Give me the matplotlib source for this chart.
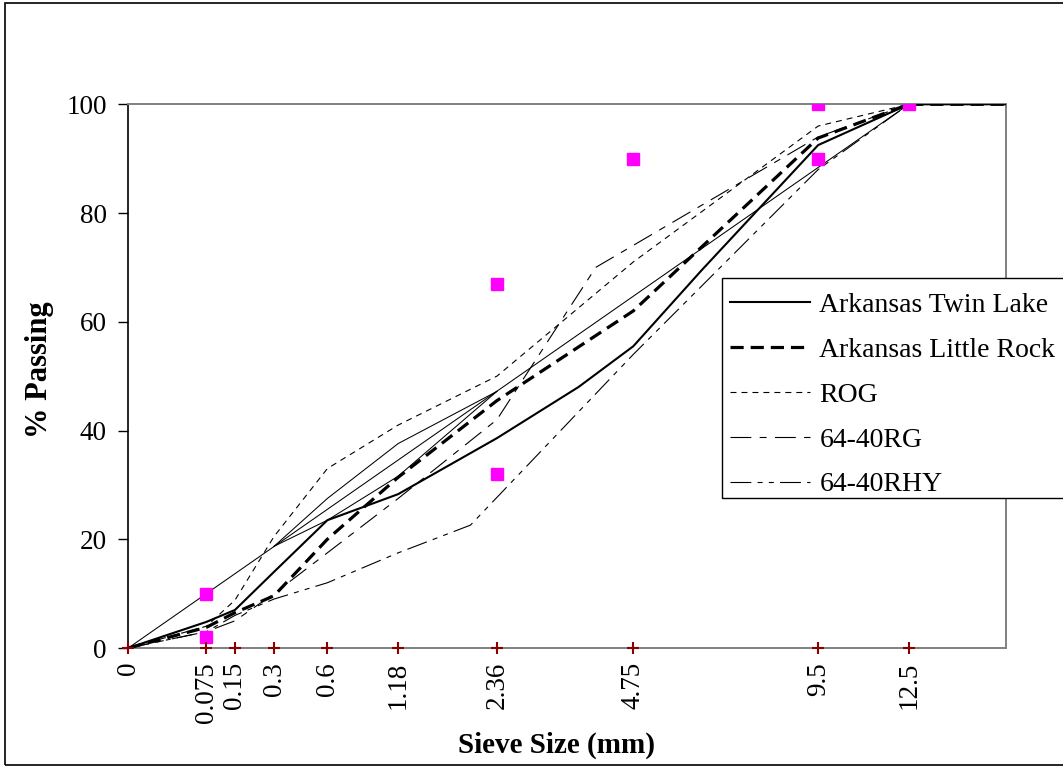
import numpy as np
import matplotlib
matplotlib.use("Agg")
import matplotlib.pyplot as plt
from matplotlib.patches import Rectangle

plt.rcParams['font.family'] = ['Liberation Serif', 'DejaVu Serif']
plt.rcParams['lines.scale_dashes'] = False

# Sieve sizes (mm) marked along the x axis
sieve_ticks = [0, 0.075, 0.15, 0.3, 0.6, 1.18, 2.36, 4.75, 9.5, 12.5]
tick_labels = ["0", "0.075", "0.15", "0.3", "0.6", "1.18", "2.36", "4.75", "9.5", "12.5"]

# Gradations (% passing)
twin_lake_sieve = [0, 0.075, 0.15, 0.3, 0.6, 1.18, 2.36, 3.68, 4.75, 6.3, 9.5, 12.5, 19]
twin_lake_pass = [0, 4.8, 7.0, 14.0, 23.5, 28.3, 38.6, 48.0, 55.5, 69.5, 92.5, 100, 100]

little_rock_sieve = [0, 0.075, 0.15, 0.3, 0.6, 1.18, 2.36, 4.75, 9.5, 12.5, 19]
little_rock_pass = [0, 3.8, 6.5, 9.6, 20.0, 31.4, 45.5, 62.0, 93.8, 100, 100]

rog_sieve = [0, 0.075, 0.15, 0.3, 0.6, 1.18, 2.36, 4.75, 9.5, 12.5, 19]
rog_pass = [0, 4.0, 8.8, 20.5, 33.0, 41.0, 50.0, 71.0, 96.0, 100, 100]

rg_sieve = [0, 0.075, 0.15, 0.3, 0.6, 1.18, 2.36, 4.0, 9.5, 12.5, 19]
rg_pass = [0, 3.0, 5.0, 10.0, 17.5, 27.5, 42.0, 70.0, 94.0, 100, 100]

rhy_sieve = [0, 0.075, 0.15, 0.3, 0.6, 1.18, 2.0, 4.75, 9.5, 12.5, 19]
rhy_pass = [0, 3.0, 6.0, 9.0, 12.0, 17.5, 22.6, 54.0, 88.0, 100, 100]

# Superpave control points
control_sieve = [0.075, 0.075, 2.36, 2.36, 4.75, 9.5, 9.5, 12.5]
control_pass = [2, 10, 32, 67, 90, 90, 100, 100]

# Restricted zone boundaries
rz_sieve = [0.3, 0.6, 1.18, 2.36]
rz_upper = [18.7, 27.5, 37.6, 47.2]
rz_lower = [18.7, 23.5, 31.6, 47.2]

# Maximum density line end points
mdl_sieve = [0, 12.5]
mdl_pass = [0, 100]

series = [
    ("Arkansas Twin Lake", twin_lake_sieve, twin_lake_pass, dict(lw=1.5, linestyle='-')),
    ("Arkansas Little Rock", little_rock_sieve, little_rock_pass, dict(lw=2.3, dashes=(9.5, 5))),
    ("ROG", rog_sieve, rog_pass, dict(lw=0.8, dashes=(4.3, 3.6))),
    ("64-40RG", rg_sieve, rg_pass, dict(lw=0.8, dashes=(15, 6, 5, 6))),
    ("64-40RHY", rhy_sieve, rhy_pass, dict(lw=0.8, dashes=(15, 4.5, 3.6, 4.5, 3.6, 4.5))),
]

W, H = 1063, 769
fig = plt.figure(figsize=(W / 100, H / 100), dpi=100)
ax = fig.add_axes([128.3 / W, (H - 648) / H, 877.7 / W, 543.7 / H])


def fwd(x):
    return np.power(np.maximum(x, 0), 0.45)


def inv(x):
    return np.power(np.maximum(x, 0), 1 / 0.45)


ax.set_xscale('function', functions=(fwd, inv))
ax.set_xlim(0, 3.504 ** (1 / 0.45))
ax.set_ylim(0, 100)

# thin reference lines
ax.plot(mdl_sieve, mdl_pass, color='black', lw=0.75, zorder=2)
ax.plot(rz_sieve, rz_upper, color='black', lw=0.75, zorder=2)
ax.plot(rz_sieve, rz_lower, color='black', lw=0.75, zorder=2)

handles = []
for name, xs, ys, st in series:
    ln, = ax.plot(xs, ys, color='black', label=name, zorder=3, **st)
    handles.append(ln)

ax.plot(control_sieve, control_pass, linestyle='none', marker='s', ms=8,
        color='#FF00FF', mec='#FF00FF', zorder=5)

ax.plot(sieve_ticks, np.zeros(len(sieve_ticks)), linestyle='none', marker='+',
        ms=9, mew=1.5, color='#8B0000', clip_on=False, zorder=6)

ax.set_yticks([0, 20, 40, 60, 80, 100])
ax.tick_params(axis='y', direction='out', length=7, width=1, pad=8.5,
               labelsize=19.5, color='black')
ax.set_xticks(sieve_ticks)
ax.set_xticklabels(tick_labels, rotation=90)
ax.tick_params(axis='x', length=0, pad=10, labelsize=19.5)
ax.minorticks_off()

for side in ['top', 'right', 'bottom']:
    ax.spines[side].set_color('#808080')
    ax.spines[side].set_linewidth(1.4)
ax.spines['left'].set_color('black')
ax.spines['left'].set_linewidth(1.2)

ax.set_ylabel('% Passing', fontsize=22, fontweight='bold', va='center')
ax.yaxis.set_label_coords((40 - 128.3) / 877.7, (648 - 370) / 543.7)
ax.set_xlabel('Sieve Size (mm)', fontsize=21, fontweight='bold', va='center')
ax.xaxis.set_label_coords((557 - 128.3) / 877.7, (648 - 745) / 543.7)

# legend box drawn as its own rectangle, entries placed inside it
fig.patches.append(Rectangle((722 / W, 1 - 498 / H), 400 / W, 220 / H,
                             transform=fig.transFigure, facecolor='white',
                             edgecolor='black', lw=1.0, zorder=7))
leg = ax.legend(handles=handles, loc='upper left',
                bbox_to_anchor=(716 / W, 1 - 278 / H), bbox_transform=fig.transFigure,
                fontsize=20, frameon=False, borderaxespad=0, borderpad=0.52,
                handlelength=2.88, handletextpad=0.32, labelspacing=0.7)
leg.set_zorder(8)
leg.remove()
fig.legends.append(leg)
leg.set_figure(fig)

# outer chart border
fig.patches.append(Rectangle((5 / W, 1 - 765 / H), 1.2, (765 - 3) / H,
                             transform=fig.transFigure, fill=False,
                             edgecolor='black', lw=1.2))

fig.savefig('out.png', dpi=100)
